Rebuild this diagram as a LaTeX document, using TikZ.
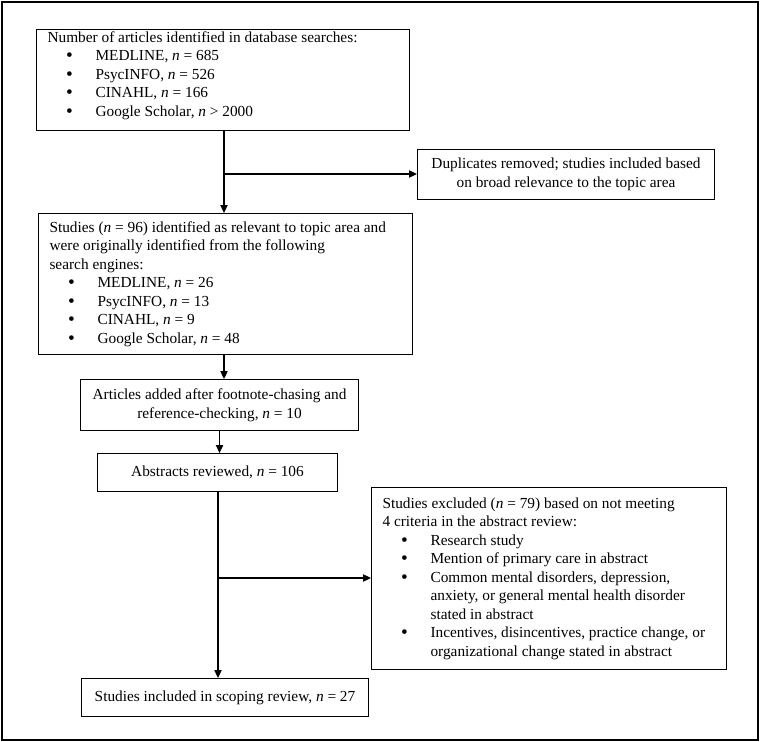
\documentclass[tikz,border=0pt]{standalone}
\usepackage{fontspec}
\setmainfont{Liberation Serif}
\usetikzlibrary{arrows.meta}
\newcommand\bitem[1]{\par\hangindent=36pt\hangafter=1\noindent\makebox[36pt][l]{\hspace{14pt}\smash{\raisebox{-0.8pt}{\fontsize{14.5}{14.5}\selectfont•}}}#1}
\newcommand\nn{\textit{n}}

\begin{document}
\begin{tikzpicture}[x=0.75pt,y=-0.75pt,>={Triangle[length=6pt,width=5.5pt]},
  font=\fontsize{11.5}{13.9}\selectfont,
  box/.style={draw,line width=0.8pt,anchor=north west,inner xsep=8.25pt,inner ysep=1pt},
  leftbox/.style={box,align=flush left},
  midbox/.style={box,align=flush center},
  link/.style={line width=0.8pt}]
%%
  \path[use as bounding box] (0,0) rectangle (760,742);
  \draw[line width=1.6pt] (2,2) rectangle (758,740);
  \node (search) at (36,29) [leftbox,minimum width=279.75pt,minimum height=75.75pt,text width=263.25pt]
    {Number of articles identified in database searches:
     \bitem{MEDLINE, \nn{} = 685}
     \bitem{PsycINFO, \nn{} = 526}
     \bitem{CINAHL, \nn{} = 166}
     \bitem{Google Scholar, \nn{} > 2000}\par\vspace{6.75pt}\hrule height 0pt};
  \node (dup) at (417,149) [midbox,minimum width=222.75pt,minimum height=37.5pt,text width=206.25pt]
    {Duplicates removed; studies included based\\ on broad relevance to the topic area};
  \node (relevant) at (38,213) [leftbox,minimum width=280.5pt,minimum height=105.75pt,text width=264pt]
    {Studies (\nn{} = 96) identified as relevant to topic area and\newline were originally identified from the following\newline search engines:
     \bitem{MEDLINE, \nn{} = 26}
     \bitem{PsycINFO, \nn{} = 13}
     \bitem{CINAHL, \nn{} = 9}
     \bitem{Google Scholar, \nn{} = 48}\par};
  \node (added) at (80,379) [midbox,inner xsep=4pt,minimum width=208.5pt,minimum height=38.25pt,text width=200.5pt]
    {Articles added after footnote-chasing and\\ reference-checking, \nn{} = 10};
  \node (abstracts) at (97,453) [midbox,minimum width=180pt,minimum height=28.5pt]
    {Abstracts reviewed, \nn{} = 106};
  \node (excluded) at (371,487) [leftbox,minimum width=266.25pt,minimum height=136.5pt,text width=249.75pt]
    {Studies excluded (\nn{} = 79) based on not meeting\newline 4 criteria in the abstract review:
     \bitem{Research study}
     \bitem{Mention of primary care in abstract}
     \bitem{Common mental disorders, depression,\newline anxiety, or general mental health disorder\newline stated in abstract}
     \bitem{Incentives, disincentives, practice change, or\newline organizational change stated in abstract}\par};
  \node (included) at (81,678) [midbox,minimum width=215.25pt,minimum height=28.5pt]
    {Studies included in scoping review, \nn{} = 27};
  \coordinate (fork1) at (224,174);
  \coordinate (fork2) at (218,578);
  \draw [link,->] (search.south -| fork1) -- (relevant.north -| fork1);
  \draw [link,->] (fork1) -- (fork1 -| dup.west);
  \draw [link,->] (relevant.south -| fork1) -- (added.north -| fork1);
  \draw [link,->] (added.south) -- (added.south |- abstracts.north);
  \draw [link,->] (abstracts.south -| fork2) -- (included.north -| fork2);
  \draw [link,->] (fork2) -- (fork2 -| excluded.west);
%
\end{tikzpicture}
\end{document}
